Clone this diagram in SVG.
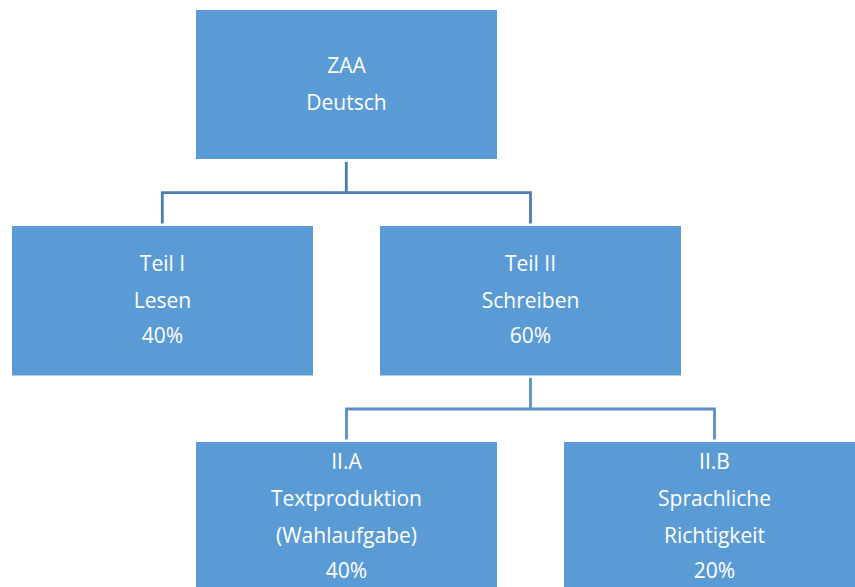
<svg xmlns="http://www.w3.org/2000/svg" width="855" height="587" viewBox="0 0 855 587">
<style>
.box{fill:#5B9BD5;}
.t{font-family:"Open Sans","Liberation Sans",sans-serif;font-size:21px;fill:#FFFFFF;text-anchor:middle;}
.c1{fill:none;stroke:#4A7DB3;stroke-width:2.8;}
.c2{fill:none;stroke:#5A8FC8;stroke-width:2.8;}
</style>
<rect width="855" height="587" fill="#FFFFFF"/>
<g id="connectors">
<path class="c1" d="M346.3 162 V192.7 M162.3 223.5 V192.7 H530.5 V223.5"/>
<path class="c2" d="M530.5 378 V409 M346.5 439.5 V409 H714.5 V439.5"/>
</g>
<g id="node-zaa">
<rect class="box" x="196" y="10" width="301" height="149"/>
<text class="t" x="346.5" y="73.3">ZAA</text>
<text class="t" x="346.5" y="110">Deutsch</text>
</g>
<g id="node-teil1">
<rect class="box" x="12" y="226" width="301" height="149.5"/>
<text class="t" x="162.5" y="270.7">Teil I</text>
<text class="t" x="162.5" y="307.5">Lesen</text>
<text class="t" x="162.5" y="343.3">40%</text>
</g>
<g id="node-teil2">
<rect class="box" x="380" y="226" width="301" height="149.5"/>
<text class="t" x="530.5" y="270.7">Teil II</text>
<text class="t" x="530.5" y="307.5">Schreiben</text>
<text class="t" x="530.5" y="343.3">60%</text>
</g>
<g id="node-iia">
<rect class="box" x="196" y="442" width="301" height="150"/>
<text class="t" x="346.5" y="469.3">II.A</text>
<text class="t" x="346.5" y="506">Textproduktion</text>
<text class="t" x="346.5" y="542.7">(Wahlaufgabe)</text>
<text class="t" x="346.5" y="578.3">40%</text>
</g>
<g id="node-iib">
<rect class="box" x="564" y="442" width="301" height="150"/>
<text class="t" x="714.5" y="469.3">II.B</text>
<text class="t" x="714.5" y="506">Sprachliche</text>
<text class="t" x="714.5" y="542.7">Richtigkeit</text>
<text class="t" x="714.5" y="578.3">20%</text>
</g>
</svg>
